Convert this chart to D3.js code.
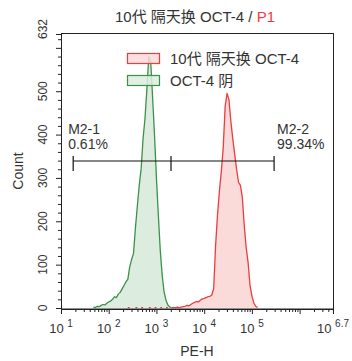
<!DOCTYPE html>
<html>
<head>
<meta charset="utf-8">
<script src="https://cdn.jsdelivr.net/npm/d3@7"></script>
<style>
  html, body { margin: 0; padding: 0; background: #fff; }
  svg { display: block; font-family: "Liberation Sans", Arial, "Noto Sans CJK SC", sans-serif; }
</style>
</head>
<body>
<svg id="chart" width="352" height="361"></svg>
<script>
// PE-H channel positions (log10) and event counts per channel
const negLog = [1.60, 1.64, 1.68, 1.72, 1.76, 1.80, 1.84, 1.88, 1.92, 1.96,
                2.00, 2.04, 2.08, 2.12, 2.16, 2.20, 2.24, 2.28, 2.32, 2.36,
                2.40, 2.44, 2.48, 2.52, 2.56, 2.60, 2.64, 2.68, 2.72, 2.76,
                2.80, 2.84, 2.88, 2.92, 2.96, 3.00, 3.04, 3.08, 3.12, 3.16,
                3.20, 3.24, 3.28, 3.32];
const negCount = [1, 0, 2, 1, 4, 3, 6, 8, 7, 11,
                  14, 16, 20, 26, 24, 32, 36, 44, 52, 60,
                  66, 95, 112, 126, 185, 236, 283, 322, 391, 437,
                  505, 580, 568, 485, 398, 299, 214, 133, 76, 37,
                  18, 7, 2, 1];

const posLog = [2.40, 2.44, 2.48, 2.52, 2.56, 2.60, 2.64, 2.68, 2.72, 2.76,
                2.80, 2.84, 2.88, 2.92, 2.96, 3.00, 3.04, 3.08, 3.12, 3.16,
                3.20, 3.24, 3.28, 3.32, 3.36, 3.40, 3.44, 3.48, 3.52, 3.56,
                3.60, 3.64, 3.68, 3.72, 3.76, 3.80, 3.84, 3.88, 3.92, 3.96,
                4.00, 4.04, 4.08, 4.12, 4.16, 4.20, 4.24, 4.28, 4.32, 4.36,
                4.40, 4.44, 4.48, 4.52, 4.56, 4.60, 4.64, 4.68, 4.72, 4.76,
                4.80, 4.84, 4.88, 4.92, 4.96, 5.00, 5.04, 5.08, 5.12, 5.16];
const posCount = [1, 1, 0, 0, 1, 1, 0, 1, 1, 0,
                  0, 1, 1, 0, 1, 1, 0, 1, 1, 0,
                  1, 1, 0, 1, 1, 1, 2, 1, 2, 3,
                  4, 6, 5, 8, 11, 13, 15, 14, 18, 21,
                  22, 24, 26, 27, 30, 45, 145, 215, 270, 315,
                  370, 465, 495, 480, 430, 390, 355, 320, 290, 283,
                  255, 191, 140, 106, 53, 28, 12, 4, 1, 0];

const seriesNames = ["10代 隔天换 OCT-4", "OCT-4 阴"];
const titleMain = "10代 隔天换 OCT-4 / ";
const titleGate = "P1";

const yTickLabels = [0, 100, 200, 300, 400, 500, 632];
const yMax = 632;
const xDecades = [1, 2, 3, 4, 5, 6];
const xMaxExp = 6.7;

// gate markers: boundaries in PE-H units, and their results
const gateEdges = [18, 2020, 292000];
const gateNames = ["M2-1", "M2-2"];
const gatePercents = ["0.61%", "99.34%"];

const colors = {
  pos: { line: "#ee3b3e", fill: "#fbdada" },
  neg: { line: "#3b9246", fill: "#dcede0" },
  text: "#333",
  axis: "#222"
};

const svg = d3.select("#chart");
const L = 61, R = 333, T = 34, B = 308;

const x = d3.scaleLog().domain([10, Math.pow(10, xMaxExp)]).range([L, R]);
const y = d3.scaleLinear().domain([0, yMax]).range([B, T]);

const toPoints = (logs, counts) => logs.map((v, i) => ({ v: Math.pow(10, v), c: counts[i] }));
const negData = toPoints(negLog, negCount);
const posData = toPoints(posLog, posCount);

const area = d3.area()
  .defined(d => d.c > 0)
  .x(d => x(d.v)).y0(y(0)).y1(d => y(d.c));
const line = d3.line()
  .defined(d => d.c > 0)
  .x(d => x(d.v)).y(d => y(d.c));

// histograms
function drawHist(data, c) {
  svg.append("path").datum(data).attr("d", area).attr("fill", c.fill);
  svg.append("path").datum(data).attr("d", line)
    .attr("fill", "none").attr("stroke", c.line).attr("stroke-width", 1.3)
    .attr("stroke-linejoin", "round");
}
drawHist(negData, colors.neg);
drawHist(posData, colors.pos);

// frame
svg.append("rect").attr("x", L + 0.5).attr("y", T - 0.5)
  .attr("width", R - L).attr("height", B - T + 1.5)
  .attr("fill", "none").attr("stroke", colors.axis).attr("stroke-width", 1);

// x axis: major decade ticks, minor ticks
const minorX = [];
for (let d = 1; d <= 6; d++) {
  for (let m = 2; m <= 9; m++) {
    const val = m * Math.pow(10, d);
    if (val <= Math.pow(10, xMaxExp)) minorX.push(val);
  }
}
const majorX = xDecades.map(d => Math.pow(10, d)).concat([Math.pow(10, xMaxExp)]);

const xAxisG = svg.append("g").attr("transform", `translate(0,${B + 1})`);
xAxisG.append("g").call(d3.axisBottom(x).tickValues(minorX).tickSize(3).tickFormat("").tickSizeOuter(0));
xAxisG.append("g").call(d3.axisBottom(x).tickValues(majorX).tickSize(5).tickFormat("").tickSizeOuter(0));
xAxisG.selectAll("path.domain").attr("stroke", colors.axis);
xAxisG.selectAll("line").attr("stroke", colors.axis);

const xLabelExps = xDecades.filter(d => d <= 5).concat([xMaxExp]);
xLabelExps.forEach(e => {
  const t = svg.append("text")
    .attr("x", x(Math.pow(10, e)))
    .attr("y", 333)
    .attr("text-anchor", "middle")
    .attr("fill", colors.text)
    .attr("font-size", 13);
  t.append("tspan").text("10 ");
  t.append("tspan").attr("font-size", 10).attr("dy", -6).text(String(e));
});

svg.append("text").attr("x", (L + R) / 2).attr("y", 356)
  .attr("text-anchor", "middle").attr("fill", colors.text).attr("font-size", 14)
  .text("PE-H");

// y axis
const minorY = d3.range(20, yMax, 20).filter(v => v % 100 !== 0);
const majorY = [0, 100, 200, 300, 400, 500, 600, 632];
const yAxisG = svg.append("g").attr("transform", `translate(${L},0)`);
yAxisG.append("g").call(d3.axisLeft(y).tickValues(minorY).tickSize(3).tickFormat("").tickSizeOuter(0));
yAxisG.append("g").call(d3.axisLeft(y).tickValues(majorY).tickSize(5).tickFormat("").tickSizeOuter(0));
yAxisG.selectAll("path.domain").attr("stroke", colors.axis);
yAxisG.selectAll("line").attr("stroke", colors.axis);

yTickLabels.forEach(v => {
  const top = v === yMax;
  const cy = top ? y(v) + 5 : y(v);
  svg.append("text")
    .attr("transform", `translate(47,${cy}) rotate(-90)`)
    .attr("text-anchor", top ? "start" : "middle")
    .attr("fill", colors.text).attr("font-size", 12)
    .text(v);
});

svg.append("text")
  .attr("transform", `translate(23,${(T + B) / 2}) rotate(-90)`)
  .attr("text-anchor", "middle").attr("fill", colors.text).attr("font-size", 14)
  .text("Count");

// title
const title = svg.append("text").attr("x", (L + R) / 2 - 2).attr("y", 22)
  .attr("text-anchor", "middle").attr("font-size", 15).attr("fill", colors.text);
title.append("tspan").text(titleMain);
title.append("tspan").attr("fill", colors.pos.line).text(titleGate);

// legend
const legend = [
  { name: seriesNames[0], c: colors.pos, y: 53 },
  { name: seriesNames[1], c: colors.neg, y: 75 }
];
legend.forEach(it => {
  svg.append("rect").attr("x", 127.5).attr("y", it.y + 0.5).attr("width", 32).attr("height", 10)
    .attr("fill", it.c.fill).attr("fill-opacity", 0.85)
    .attr("stroke", it.c.line).attr("stroke-width", 1.2);
  svg.append("text").attr("x", 170).attr("y", it.y + 10.5)
    .attr("font-size", 15).attr("fill", colors.text).text(it.name);
});

// gate markers
const gy = 161;
const gx = gateEdges.map(v => x(v));
svg.append("line").attr("x1", gx[0]).attr("x2", gx[2]).attr("y1", gy).attr("y2", gy)
  .attr("stroke", "#111").attr("stroke-width", 1.2);
gx.forEach(px => {
  svg.append("line").attr("x1", px).attr("x2", px).attr("y1", gy - 5).attr("y2", gy + 10)
    .attr("stroke", "#111").attr("stroke-width", 1.2);
});
const gateLabelX = [gx[0] - 5, gx[2] + 3];
gateNames.forEach((n, i) => {
  svg.append("text").attr("x", gateLabelX[i]).attr("y", 134)
    .attr("font-size", 14).attr("fill", colors.text).text(n);
  svg.append("text").attr("x", gateLabelX[i]).attr("y", 149)
    .attr("font-size", 14).attr("fill", colors.text).text(gatePercents[i]);
});
</script>
</body>
</html>
